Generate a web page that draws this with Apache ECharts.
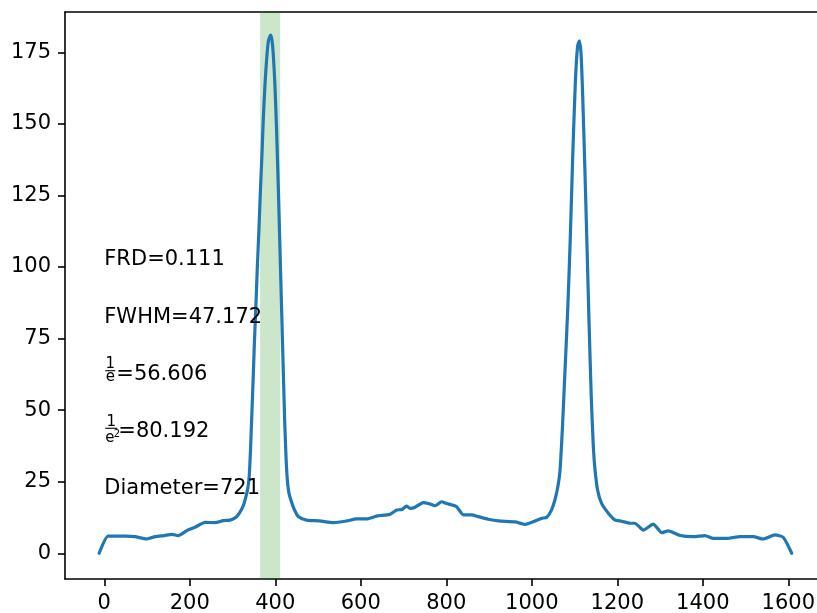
<!DOCTYPE html>
<html>
<head>
<meta charset="utf-8">
<script src="https://cdn.jsdelivr.net/npm/echarts@6/dist/echarts.min.js"></script>
<style>
  html, body { margin: 0; padding: 0; background: #fff; overflow: hidden; }
  #chart { width: 817px; height: 613px; }
</style>
</head>
<body>
<div id="chart"></div>
<script>
// ---- data ----
const positions = [
  -12, 9, 25, 50, 72, 99, 119, 140, 158, 173, 193, 212, 236, 259, 278, 294, 306, 313, 320, 326, 330,
  336, 339, 342, 345, 348, 351, 355, 358, 362, 365, 369, 372, 376, 380, 384, 389, 392, 395, 399, 403,
  407, 411, 415, 419, 422, 425, 428, 432, 440, 447, 454, 473, 504, 536, 567, 590, 614, 637, 668, 684,
  696, 707, 715, 727, 746, 758, 774, 789, 801, 813, 824, 840, 859, 875, 898, 922, 961, 984, 1003, 1023,
  1035, 1046, 1054, 1061, 1066, 1072, 1078, 1084, 1090, 1096, 1102, 1107, 1111, 1115, 1119, 1124, 1129,
  1134, 1139, 1144, 1148, 1154, 1163, 1179, 1195, 1210, 1230, 1241, 1261, 1284, 1304, 1319, 1347, 1378,
  1405, 1425, 1456, 1487, 1518, 1541, 1569, 1588, 1608
];
const intensities = [
  0, 6.0, 6.0, 6.0, 5.8, 5.0, 5.8, 6.2, 6.6, 6.2, 7.9, 9.1, 10.8, 10.7, 11.4, 11.6, 12.4, 13.4, 15, 17, 19,
  23, 27, 36, 48, 60, 73, 88, 100, 114, 126, 140, 152, 164, 173, 179, 181, 179.5, 175, 164, 148,
  128, 106, 84, 62, 46, 34, 26, 21, 17, 14.5, 12.8, 11.6, 11.3, 10.7, 11.3, 12.0, 12.0, 13.0, 13.6, 15.1,
  15.3, 16.5, 15.7, 16.1, 17.7, 17.4, 16.6, 18.0, 17.4, 16.9, 16.3, 13.4, 13.4, 12.8, 11.9, 11.3, 11.0, 10.1, 11.0, 12.2,
  12.6, 15.1, 18.6, 23.3, 29, 45, 65, 85, 110, 140, 165, 177, 179, 175, 160, 135, 108,
  80, 55, 37, 29, 22, 17.5, 14.0, 11.6, 11.2, 10.5, 10.5, 8.1, 10.2, 7.2, 7.8, 6.2, 5.8,
  6.2, 5.2, 5.2, 5.8, 5.8, 5.0, 6.4, 5.6, 0
];
const xTicks = [0, 200, 400, 600, 800, 1000, 1200, 1400, 1600];
const yTicks = [0, 25, 50, 75, 100, 125, 150, 175];
const bandRange = [364.4, 411.6];
const noteY = [100, 80, 60, 40, 20];
const noteText = ['FRD=0.111', 'FWHM=47.172', '=56.606', '=80.192', 'Diameter=721'];
const noteFracDen = ['', '', 'e', 'e2', ''];   // '' = plain text; 'e' = 1/e ; 'e2' = 1/e²

// ---- chart ----
const FONT = 'DejaVu Sans';
const chart = echarts.init(document.getElementById('chart'), null, { renderer: 'canvas' });

const xMin = -91.9, xMax = 1690.5, yMin = -8.98, yMax = 189.07;

function renderNote(params, api) {
  const i = api.value(2);
  const p = api.coord([api.value(0), api.value(1)]);
  const x0 = p[0], base = p[1];
  const children = [];
  let tx = x0;
  const den = noteFracDen[i];
  if (den) {
    const sup = den === 'e2';
    const w = sup ? 12 : 10;
    const lineY = base - (sup ? 10.5 : 10.8);
    children.push({ type: 'line', shape: { x1: x0 + 1, y1: lineY, x2: x0 + 1 + w, y2: lineY },
      style: { stroke: '#000', lineWidth: 1.1 } });
    children.push({ type: 'text', style: { text: '1', x: x0 + 1 + w / 2, y: lineY - 6.5, align: 'center',
      verticalAlign: 'middle', font: '15px ' + FONT, fill: '#000' } });
    if (sup) {
      children.push({ type: 'text', style: { text: 'e', x: x0 + 1, y: lineY + 9.5, align: 'left',
        verticalAlign: 'middle', font: '15px ' + FONT, fill: '#000' } });
      children.push({ type: 'text', style: { text: '2', x: x0 + 9.5, y: lineY + 5.8, align: 'left',
        verticalAlign: 'middle', font: '10px ' + FONT, fill: '#000' } });
    } else {
      children.push({ type: 'text', style: { text: 'e', x: x0 + 1 + w / 2, y: lineY + 6.5, align: 'center',
        verticalAlign: 'middle', font: '15px ' + FONT, fill: '#000' } });
    }
    tx = x0 + w + 2;
  }
  children.push({ type: 'text', style: { text: noteText[i], x: tx, y: base - 7, align: 'left',
    verticalAlign: 'middle', font: '21px ' + FONT, fill: '#000' } });
  return { type: 'group', children: children };
}

const axisLineStyle = { color: '#000', width: 1.6 };
const plainNum = v => String(v);

chart.setOption({
  animation: false,
  backgroundColor: '#ffffff',
  grid: { left: 65, top: 12, right: -10, bottom: 34, containLabel: false, outerBoundsMode: 'none' },
  xAxis: [
    {
      type: 'value', min: xMin, max: xMax, position: 'bottom',
      axisLine: { show: true, onZero: false, lineStyle: axisLineStyle },
      axisTick: { show: true, length: 7, inside: false, lineStyle: axisLineStyle, customValues: xTicks },
      axisLabel: { show: true, margin: 14, color: '#000', fontSize: 21, fontFamily: FONT,
        customValues: xTicks, formatter: plainNum, hideOverlap: false },
      splitLine: { show: false }
    },
    {
      type: 'value', min: xMin, max: xMax, position: 'top',
      axisLine: { show: true, onZero: false, lineStyle: axisLineStyle },
      axisTick: { show: false }, axisLabel: { show: false }, splitLine: { show: false }
    }
  ],
  yAxis: {
    type: 'value', min: yMin, max: yMax,
    axisLine: { show: true, onZero: false, lineStyle: axisLineStyle },
    axisTick: { show: true, length: 7, inside: false, lineStyle: axisLineStyle, customValues: yTicks },
    axisLabel: { show: true, margin: 14, color: '#000', fontSize: 21, fontFamily: FONT,
      customValues: yTicks, formatter: plainNum },
    splitLine: { show: false }
  },
  series: [
    {
      type: 'line',
      xAxisIndex: 0,
      data: positions.map((x, i) => [x, intensities[i]]),
      showSymbol: false,
      symbol: 'none',
      smooth: 0.2,
      lineStyle: { color: '#1f77b4', width: 3.2, join: 'round', cap: 'round' },
      z: 3,
      silent: true,
      markArea: {
        silent: true,
        itemStyle: { color: 'rgba(0,128,0,0.2)' },
        data: [[{ xAxis: bandRange[0] }, { xAxis: bandRange[1] }]]
      }
    },
    {
      type: 'custom',
      xAxisIndex: 0,
      coordinateSystem: 'cartesian2d',
      data: noteY.map((y, i) => [0, y, i]),
      renderItem: renderNote,
      z: 10,
      silent: true,
      clip: false
    }
  ]
});
</script>
</body>
</html>
